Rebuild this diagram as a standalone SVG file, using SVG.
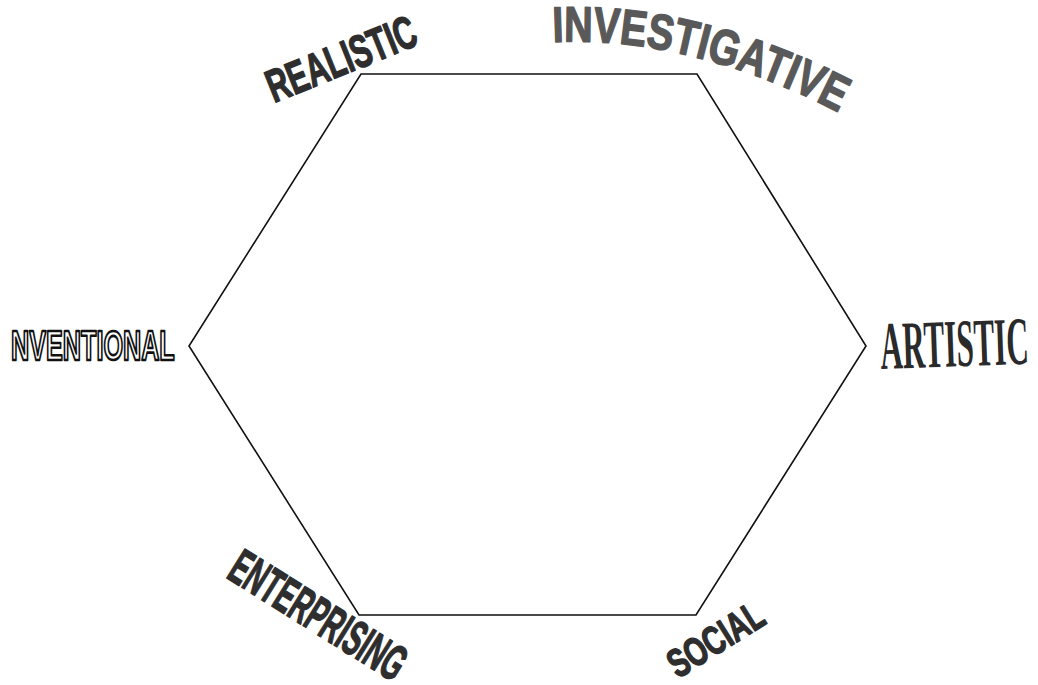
<svg xmlns="http://www.w3.org/2000/svg" width="1038" height="685" viewBox="0 0 1038 685">
<style>
.bold{font-family:"Liberation Sans",Arial,sans-serif;font-weight:bold;fill:#2e2e2e;stroke:#2e2e2e;stroke-width:1.5;stroke-linejoin:round}
.edge{fill:none;stroke:#111;stroke-width:1.6;stroke-linejoin:miter}
</style>
<defs>
<path id="invPath" d="M 553,42 Q 690,36 838,112"/>
</defs>
<rect width="1038" height="685" fill="#fff"/>
<g id="connectors">
<polygon class="edge" points="361,74 697,74 866,346 696,615 359,615 189,346"/>
</g>
<g id="realistic">
<text class="bold" font-size="46" transform="translate(274,103) rotate(-22) scale(0.65,1)">REALISTIC</text>
</g>
<g id="investigative">
<text class="bold" font-size="50" style="fill:#595959;stroke:#595959"><textPath href="#invPath" textLength="298" lengthAdjust="spacingAndGlyphs">INVESTIGATIVE</textPath></text>
</g>
<g id="conventional">
<text font-family="Liberation Sans,Arial,sans-serif" font-weight="bold" font-size="42" fill="#fff" stroke="#111" stroke-width="2.6" stroke-linejoin="round" transform="translate(11,360) scale(0.6,1)">NVENTIONAL</text>
</g>
<g id="artistic">
<text font-family="Liberation Serif,'Times New Roman',serif" font-weight="bold" font-size="68" fill="#2a2a2a" transform="translate(881,369) rotate(-2) scale(0.455,1)">ARTISTIC</text>
</g>
<g id="enterprising">
<text class="bold" font-size="50" transform="translate(225,577) rotate(32) scale(0.53,1)">ENTERPRISING</text>
</g>
<g id="social">
<text class="bold" font-size="40" transform="translate(678,679) rotate(-32) scale(0.7,1)">SOCIAL</text>
</g>
</svg>
